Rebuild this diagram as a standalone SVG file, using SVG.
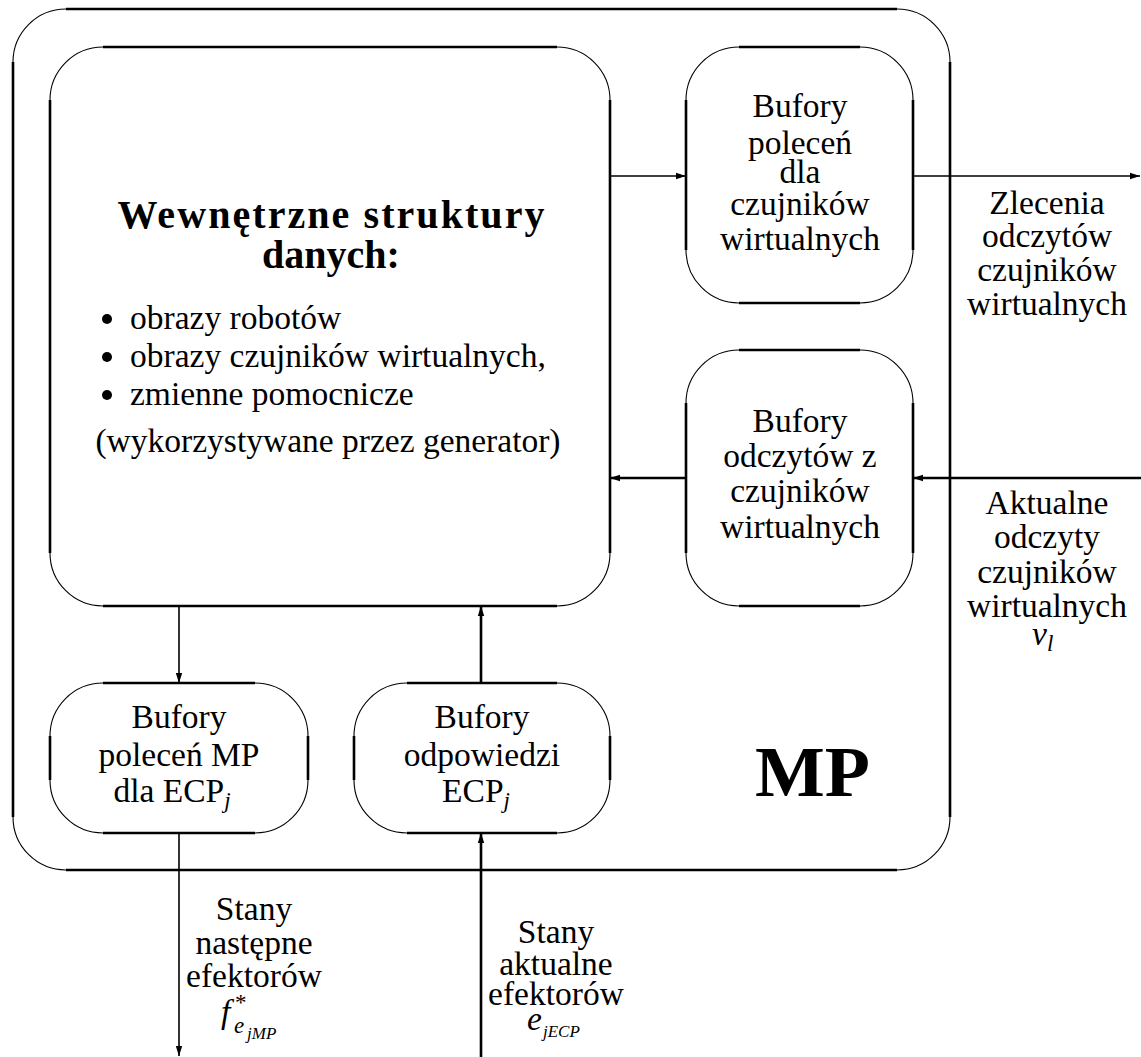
<svg xmlns="http://www.w3.org/2000/svg" width="1141" height="1057" viewBox="0 0 1141 1057">
<style>
  text { font-family: "Liberation Serif", "Times New Roman", serif; fill: #000; }
  .t { font-size: 33.5px; text-anchor: middle; }
  .tl { font-size: 33.5px; }
  .title { font-size: 40px; font-weight: bold; text-anchor: middle; }
  .big { font-size: 72px; font-weight: bold; }
  .arc { fill: none; stroke: #000; stroke-width: 1.1; }
  .edge { fill: none; stroke: #000; stroke-width: 2.6; }
  .thin { fill: none; stroke: #000; stroke-width: 1.6; }
  .thick { fill: none; stroke: #000; stroke-width: 2.6; }
  .it { font-style: italic; }
  .sub { font-size: 23px; font-style: italic; }
  .sub2 { font-size: 17px; font-style: italic; }
</style>
<defs>
  <marker id="ah" markerUnits="userSpaceOnUse" markerWidth="12" markerHeight="10" refX="10" refY="5" orient="auto">
    <path d="M0,1.8 L10,5 L0,8.2 Z" fill="#000"/>
  </marker>
</defs>

<g id="mp-outer">
  <rect class="arc" x="13" y="9" width="937" height="861" rx="53" ry="53"/>
  <path class="edge" d="M66,9 H897 M950,62 V817 M897,870 H66 M13,817 V62"/>
  <text class="big" x="755" y="796" textLength="115" lengthAdjust="spacingAndGlyphs">MP</text>
</g>

<g id="internal-data">
  <rect class="arc" x="50" y="47" width="560" height="559" rx="53" ry="53"/>
  <path class="edge" d="M103,47 H557 M610,100 V553 M557,606 H103 M50,553 V100"/>
  <text class="title" x="331" y="228" textLength="427" lengthAdjust="spacing">Wewnętrzne struktury</text>
  <text class="title" x="331" y="268">danych:</text>
  <circle cx="107" cy="319" r="5"/>
  <text class="tl" x="130" y="329">obrazy robotów</text>
  <circle cx="107" cy="357" r="5"/>
  <text class="tl" x="130" y="367">obrazy czujników wirtualnych,</text>
  <circle cx="107" cy="395" r="5"/>
  <text class="tl" x="130" y="405">zmienne pomocnicze</text>
  <text class="t" x="328" y="452">(wykorzystywane przez generator)</text>
</g>

<g id="cmd-buffers">
  <rect class="arc" x="686" y="47" width="227" height="256" rx="53" ry="53"/>
  <path class="edge" d="M739,47 H860 M913,100 V250 M860,303 H739 M686,250 V100"/>
  <text class="t" x="800" y="117">Bufory</text>
  <text class="t" x="800" y="154">poleceń</text>
  <text class="t" x="800" y="183">dla</text>
  <text class="t" x="800" y="215">czujników</text>
  <text class="t" x="800" y="250">wirtualnych</text>
</g>

<g id="read-buffers">
  <rect class="arc" x="686" y="350" width="227" height="256" rx="53" ry="53"/>
  <path class="edge" d="M739,350 H860 M913,403 V553 M860,606 H739 M686,553 V403"/>
  <text class="t" x="800" y="432">Bufory</text>
  <text class="t" x="800" y="467">odczytów z</text>
  <text class="t" x="800" y="502">czujników</text>
  <text class="t" x="800" y="538">wirtualnych</text>
</g>

<g id="mp-cmd-buffers">
  <rect class="arc" x="50" y="683" width="258" height="150" rx="53" ry="53"/>
  <path class="edge" d="M103,683 H255 M308,736 V780 M255,833 H103 M50,780 V736"/>
  <text class="t" x="179" y="728">Bufory</text>
  <text class="t" x="179" y="766">poleceń MP</text>
  <text class="t" x="172" y="802">dla ECP<tspan class="sub" dy="6">j</tspan></text>
</g>

<g id="ecp-resp-buffers">
  <rect class="arc" x="354" y="683" width="256" height="150" rx="53" ry="53"/>
  <path class="edge" d="M407,683 H557 M610,736 V780 M557,833 H407 M354,780 V736"/>
  <text class="t" x="482" y="728">Bufory</text>
  <text class="t" x="482" y="766">odpowiedzi</text>
  <text class="t" x="476" y="802">ECP<tspan class="sub" dy="6">j</tspan></text>
</g>

<g id="labels">
  <text class="t" x="1047" y="214">Zlecenia</text>
  <text class="t" x="1047" y="247">odczytów</text>
  <text class="t" x="1047" y="281">czujników</text>
  <text class="t" x="1047" y="315">wirtualnych</text>

  <text class="t" x="1047" y="514">Aktualne</text>
  <text class="t" x="1047" y="548">odczyty</text>
  <text class="t" x="1047" y="583">czujników</text>
  <text class="t" x="1047" y="617">wirtualnych</text>
  <text class="tl it" x="1032" y="645">v<tspan class="sub" dy="6">l</tspan></text>

  <text class="t" x="254" y="920">Stany</text>
  <text class="t" x="254" y="954">następne</text>
  <text class="t" x="254" y="987">efektorów</text>
  <text class="tl it" x="221" y="1023">f</text>
  <text class="sub" x="235" y="1010" style="font-style:normal">*</text>
  <text class="sub" x="234" y="1033">e</text>
  <text class="sub2" x="247" y="1039">jMP</text>

  <text class="t" x="556" y="943">Stany</text>
  <text class="t" x="556" y="975">aktualne</text>
  <text class="t" x="556" y="1005">efektorów</text>
  <text class="tl it" x="527" y="1030">e</text>
  <text class="sub2" x="543" y="1037">jECP</text>
</g>

<g id="connectors">
  <line class="thin" x1="610" y1="176" x2="686" y2="176" marker-end="url(#ah)"/>
  <line class="thin" x1="913" y1="176" x2="1140" y2="176" marker-end="url(#ah)"/>
  <line class="thick" x1="1141" y1="478" x2="913" y2="478" marker-end="url(#ah)"/>
  <line class="thick" x1="686" y1="478" x2="610" y2="478" marker-end="url(#ah)"/>
  <line class="thin" x1="179" y1="606" x2="179" y2="683" marker-end="url(#ah)"/>
  <line class="thin" x1="179" y1="833" x2="179" y2="1056" marker-end="url(#ah)"/>
  <line class="thick" x1="481" y1="1057" x2="481" y2="833" marker-end="url(#ah)"/>
  <line class="thick" x1="481" y1="683" x2="481" y2="606" marker-end="url(#ah)"/>
</g>
</svg>
